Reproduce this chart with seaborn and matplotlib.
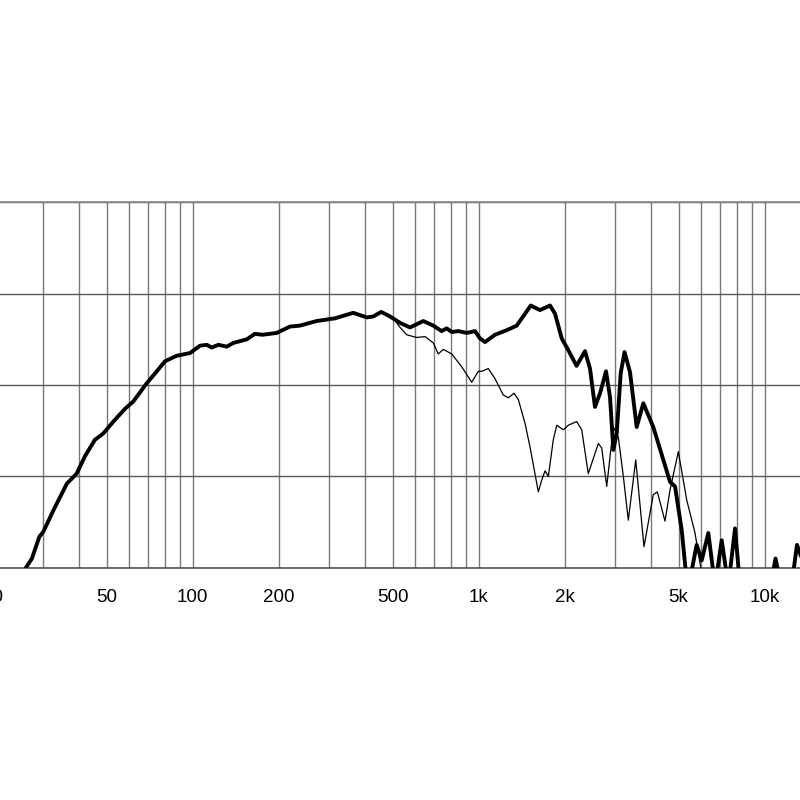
import matplotlib
matplotlib.use("Agg")
import matplotlib.pyplot as plt
import seaborn as sns
import pandas as pd
import numpy as np

# ---- data ----
freq_bold = [25, 26.1, 27.4, 29.1, 30.0, 32.6, 36.3, 39.3, 42.0, 45.5,
             48.7, 52.8, 58.0, 62.0, 69.1, 74.9, 80.0, 87.9, 97.9, 106,
             112, 116.5, 123, 131.5, 138.7, 154.5, 165, 175.4, 196.7, 218.9,
             237, 271, 314.5, 364, 406, 428, 456, 490, 531, 575,
             640, 694, 742, 773, 805, 849, 908, 971, 1010, 1052,
             1140, 1253, 1358, 1452, 1520, 1638, 1776, 1849, 1951, 2058,
             2198, 2353, 2450, 2550, 2656, 2787, 2878, 2956, 3038, 3137,
             3235, 3381, 3568, 3763, 4078, 4421, 4666, 4858, 5127, 5338,
             5500, 5783, 6022, 6351, 6703, 7074, 7460, 7875, 8198, 9250,
             10690, 10910, 11160, 11780, 12590, 12970, 13830, 14700]
spl_bold = [58.0, 60.0, 61.0, 63.4, 63.9, 66.3, 69.2, 70.3, 72.2, 74.0,
            74.7, 76.0, 77.4, 78.2, 80.2, 81.5, 82.6, 83.2, 83.5, 84.3,
            84.4, 84.1, 84.4, 84.2, 84.6, 85.0, 85.6, 85.5, 85.7, 86.4,
            86.5, 87.0, 87.3, 87.9, 87.4, 87.5, 88.0, 87.5, 86.8, 86.3,
            87.0, 86.5, 85.9, 86.2, 85.8, 85.9, 85.7, 85.9, 85.1, 84.7,
            85.5, 86.0, 86.5, 87.8, 88.7, 88.2, 88.7, 87.8, 85.1, 83.8,
            82.1, 83.7, 81.8, 77.6, 79.1, 81.5, 78.7, 72.9, 74.7, 81.3,
            83.6, 81.4, 75.4, 78.0, 75.4, 71.8, 69.4, 68.9, 64.1, 58.5,
            59.0, 62.5, 60.8, 63.8, 58.0, 63.0, 58.0, 64.3, 58.0, 52.0,
            59.5, 61.0, 59.5, 55.0, 59.5, 62.5, 60.0, 56.0]

# thin curve: identical to the bold one up to ~490 Hz, then:
freq_thin_tail = [503, 531, 560, 607, 649, 694, 722, 752, 805, 872,
                  945, 997, 1024, 1080, 1140, 1219, 1269, 1329, 1376, 1452,
                  1512, 1616, 1661, 1706, 1752, 1823, 1874, 1976, 2058, 2201,
                  2292, 2416, 2620, 2692, 2803, 2956, 3077, 3204, 3335, 3540,
                  3784, 4078, 4212, 4481, 4666, 4988, 5338, 5705, 5940, 6235]
spl_thin_tail = [87.3, 86.3, 85.5, 85.2, 85.3, 84.6, 83.4, 83.9, 83.4, 82.0,
                 80.3, 81.5, 81.5, 81.8, 80.7, 78.9, 78.6, 79.1, 78.4, 75.8,
                 73.2, 68.3, 69.6, 70.6, 70.0, 74.0, 75.6, 75.1, 75.6, 76.0,
                 75.1, 70.3, 73.6, 73.1, 68.9, 75.4, 74.3, 70.0, 65.2, 71.8,
                 62.3, 68.0, 68.3, 65.1, 68.5, 72.7, 67.4, 63.8, 60.5, 57.0]

major_ticks = [20, 50, 100, 200, 500, 1000, 2000, 5000, 10000, 20000]
major_labels = ["20", "50", "100", "200", "500", "1k", "2k", "5k", "10k", ""]
minor_ticks = [30, 40, 60, 70, 80, 90, 300, 400, 600, 700, 800, 900,
               3000, 4000, 6000, 7000, 8000, 9000]
y_ticks = [60, 70, 80, 90, 100]

# ---- build tables ----
n_shared = sum(1 for f in freq_bold if f <= 490)
bold = pd.DataFrame({"freq": freq_bold, "spl": spl_bold})
thin = pd.DataFrame({"freq": freq_bold[:n_shared] + freq_thin_tail,
                     "spl": spl_bold[:n_shared] + spl_thin_tail})

sns.set_style("white")
plt.rcParams["font.family"] = ["Liberation Sans", "DejaVu Sans"]

fig = plt.figure(figsize=(8, 8), dpi=100)
# axes deliberately wider than the figure (reference is a crop)
ax = fig.add_axes([-7.2 / 800, 232.3 / 800, 858 / 800, 365.4 / 800])
ax.set_xscale("log")

sns.lineplot(data=thin, x="freq", y="spl", ax=ax, color="black",
             linewidth=0.9, sort=False, estimator=None, zorder=3,
             solid_joinstyle="round", solid_capstyle="round")
sns.lineplot(data=bold, x="freq", y="spl", ax=ax, color="black",
             linewidth=2.8, sort=False, estimator=None, zorder=4,
             solid_joinstyle="round", solid_capstyle="round")

ax.set_xlim(20, 20000)
ax.set_ylim(60, 100)
ax.set_xticks(major_ticks)
ax.set_xticklabels(major_labels)
ax.set_xticks(minor_ticks, minor=True)
ax.xaxis.set_minor_formatter(matplotlib.ticker.NullFormatter())
ax.set_yticks(y_ticks)
ax.set_yticklabels([])
ax.tick_params(axis="both", which="both", length=0)
ax.tick_params(axis="x", labelsize=13.5, pad=15.5, colors="black")
ax.grid(True, which="both", axis="x", color="#7a7a7a", linewidth=1.0)
ax.grid(True, which="major", axis="y", color="#5a5a5a", linewidth=1.0)
ax.set_axisbelow(True)
for s in ax.spines.values():
    s.set_color("#8a8a8a")
    s.set_linewidth(1.2)
ax.spines["bottom"].set_color("#555555")
ax.set_xlabel("")
ax.set_ylabel("")

fig.savefig("out.png", dpi=100)
